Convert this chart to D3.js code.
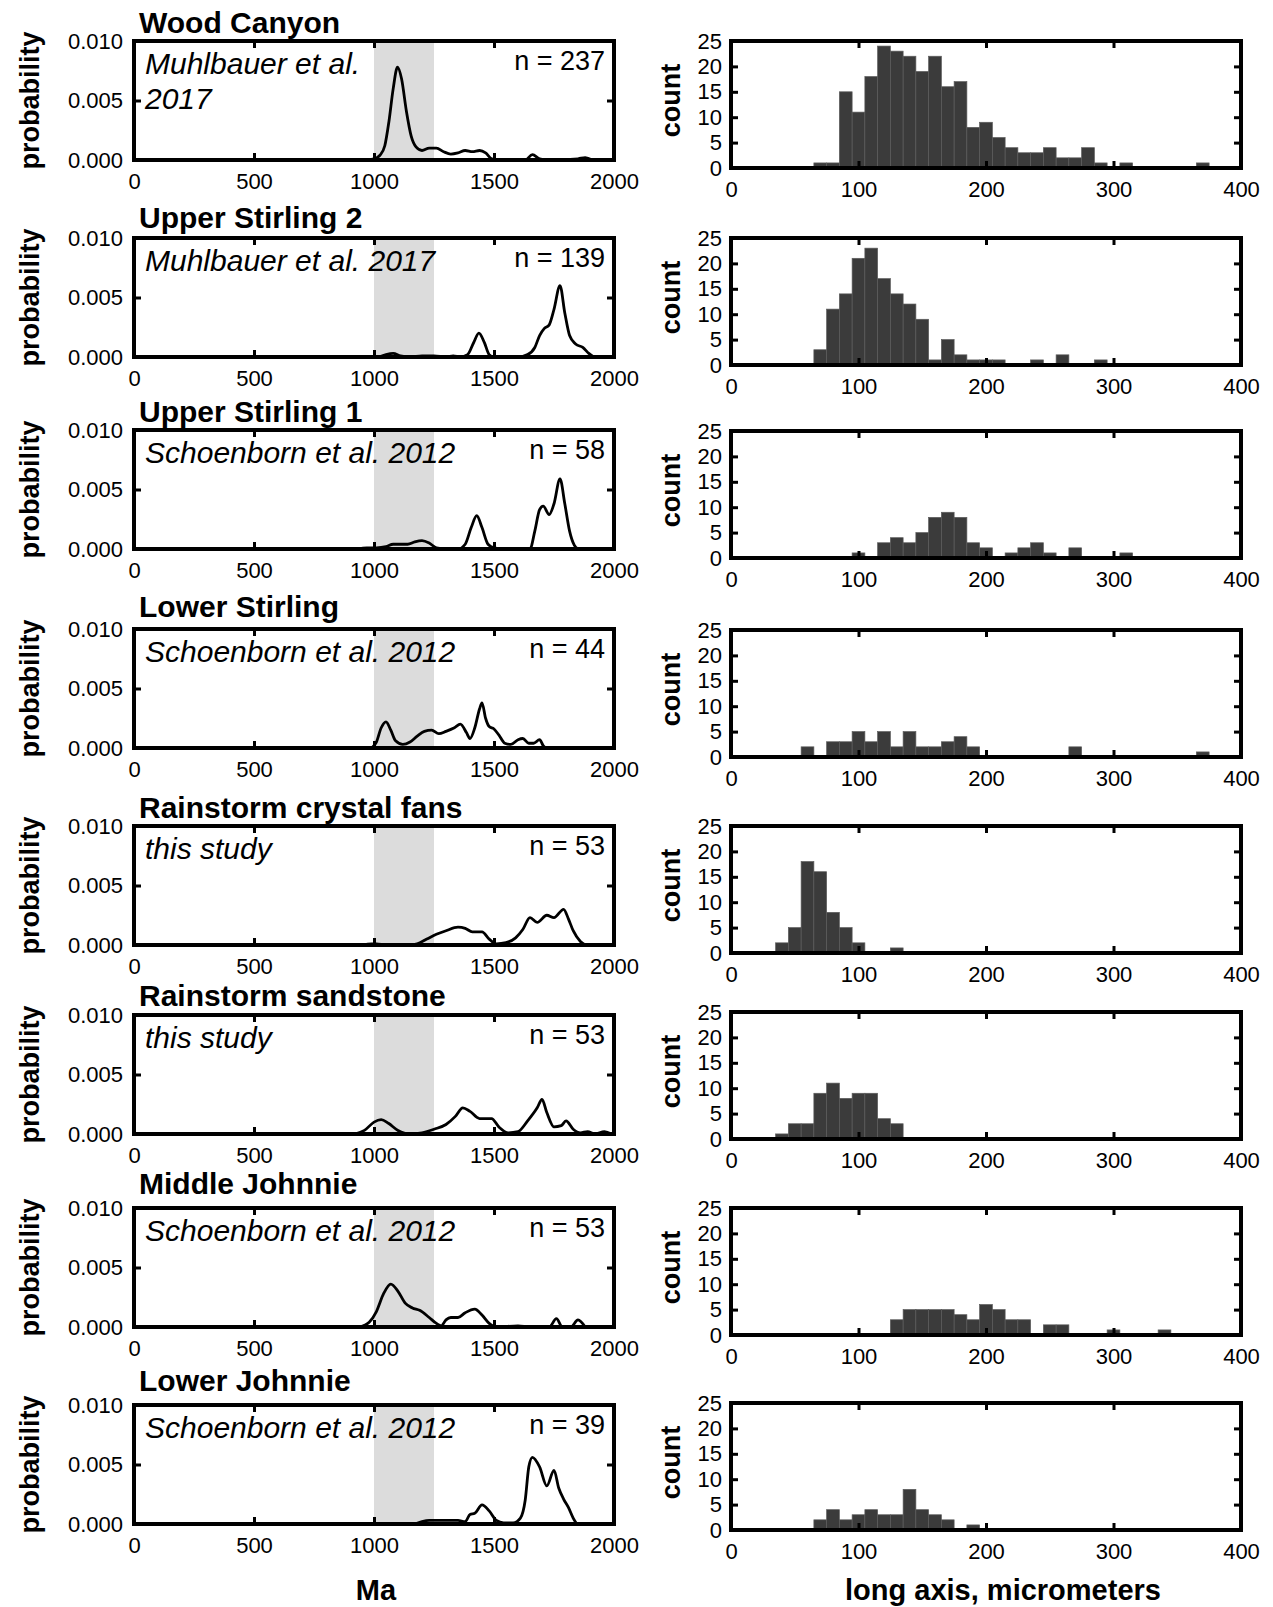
<!DOCTYPE html>
<html>
<head>
<meta charset="utf-8">
<script src="https://cdnjs.cloudflare.com/ajax/libs/d3/7.8.5/d3.min.js"></script>
<style>
body { margin: 0; background: #fff; }
svg { display: block; font-family: "Liberation Sans", Arial, Helvetica, sans-serif; }
</style>
</head>
<body>
<svg id="fig" width="1273" height="1607"></svg>
<script>
// samples, sources, n
const samples = ["Wood Canyon", "Upper Stirling 2", "Upper Stirling 1", "Lower Stirling",
	"Rainstorm crystal fans", "Rainstorm sandstone", "Middle Johnnie", "Lower Johnnie"];
const sources = ["Muhlbauer et al.\n2017", "Muhlbauer et al. 2017", "Schoenborn et al. 2012",
	"Schoenborn et al. 2012", "this study", "this study", "Schoenborn et al. 2012", "Schoenborn et al. 2012"];
const nGrains = [237, 139, 58, 44, 53, 53, 53, 39];

// axes
const ageTicks = [0, 500, 1000, 1500, 2000];
const probTicks = [0, 0.005, 0.010];
const sizeTicks = [0, 100, 200, 300, 400];
const countTicks = [0, 5, 10, 15, 20, 25];
const band = [1000, 1250];
const binWidth = 10;

// KDE curves [age Ma, probability]
const kdeWoodCanyon = [[960,0],[1000,0.0001],[1025,0.0004],[1045,0.0012],[1062,0.0032],[1080,0.006],[1098,0.0078],[1115,0.0068],[1135,0.0041],[1155,0.002],[1175,0.0011],[1200,0.0008],[1230,0.001],[1260,0.001],[1290,0.0007],[1320,0.0005],[1350,0.0006],[1380,0.0008],[1410,0.0007],[1440,0.0008],[1465,0.0006],[1490,0.0001],[1520,0],[1630,0],[1660,0.00045],[1690,0.0001],[1720,0],[1850,0.0001],[1880,0.0002],[1910,0]];
const kdeUpperStirling2 = [[1020,0],[1050,0.0002],[1080,0.0003],[1110,0.0001],[1150,0],[1200,0.0001],[1250,0.0001],[1300,0],[1330,0.0001],[1360,0],[1390,0.0002],[1415,0.0012],[1437,0.002],[1460,0.0012],[1480,0.0002],[1500,0],[1600,0],[1640,0.0002],[1670,0.0008],[1690,0.0018],[1710,0.0024],[1730,0.0027],[1750,0.004],[1775,0.006],[1795,0.0037],[1815,0.0018],[1840,0.0011],[1870,0.0008],[1895,0.0003],[1915,0]];
const kdeUpperStirling1 = [[930,0],[970,0.0001],[1010,0.0001],[1050,0.0002],[1080,0.0004],[1110,0.0004],[1140,0.0004],[1170,0.0006],[1200,0.0007],[1230,0.0005],[1260,0.0001],[1300,0],[1350,0],[1380,0.0004],[1405,0.0018],[1428,0.0028],[1450,0.0018],[1475,0.0004],[1500,0.0001],[1540,0],[1650,0],[1670,0.0015],[1690,0.0033],[1705,0.0036],[1730,0.0029],[1750,0.0038],[1775,0.0059],[1795,0.0038],[1815,0.0015],[1835,0.0003],[1850,0]];
const kdeLowerStirling = [[990,0],[1010,0.0005],[1030,0.0017],[1050,0.0022],[1070,0.0015],[1090,0.0006],[1120,0.0003],[1150,0.0005],[1180,0.001],[1210,0.0014],[1240,0.0015],[1270,0.0012],[1300,0.0014],[1335,0.0017],[1360,0.002],[1385,0.0013],[1400,0.0008],[1420,0.0017],[1440,0.0033],[1450,0.0038],[1465,0.0025],[1480,0.0018],[1500,0.0016],[1520,0.0011],[1545,0.0004],[1570,0.0003],[1600,0.0007],[1620,0.0008],[1645,0.0004],[1665,0.0004],[1690,0.0007],[1705,0.0002],[1715,0]];
const kdeCrystalFans = [[950,0],[990,0.0001],[1010,0.0001],[1050,0],[1150,0],[1180,0.0001],[1220,0.0005],[1260,0.0009],[1300,0.0012],[1350,0.0015],[1380,0.0014],[1410,0.0011],[1450,0.0011],[1480,0.0005],[1510,0.0001],[1550,0.0002],[1590,0.0006],[1620,0.0013],[1650,0.0023],[1680,0.0019],[1720,0.0025],[1750,0.0023],[1790,0.003],[1810,0.0022],[1830,0.0012],[1860,0.0003],[1880,0]];
const kdeSandstone = [[920,0],[960,0.0003],[1000,0.001],[1030,0.0012],[1060,0.0009],[1100,0.0003],[1150,0],[1200,0.0001],[1250,0.0004],[1300,0.0008],[1340,0.0015],[1370,0.0022],[1400,0.0019],[1440,0.0013],[1490,0.0013],[1520,0.0006],[1560,0.0001],[1600,0.0002],[1640,0.0011],[1680,0.0022],[1700,0.0029],[1720,0.0018],[1750,0.0006],[1780,0.0007],[1800,0.0011],[1830,0.0004],[1860,0.0001],[1890,0.0002],[1920,0],[1960,0.0002],[1990,0]];
const kdeMiddleJohnnie = [[940,0],[980,0.0004],[1010,0.0013],[1040,0.0028],[1070,0.0036],[1100,0.003],[1130,0.002],[1160,0.0016],[1190,0.0014],[1230,0.0008],[1260,0.0003],[1280,0.0001],[1300,0.0006],[1320,0.0008],[1350,0.0008],[1380,0.0012],[1420,0.0015],[1450,0.001],[1480,0.0003],[1510,0],[1600,0.0001],[1650,0],[1730,0],[1760,0.0007],[1785,0],[1820,0],[1850,0.0006],[1880,0]];
const kdeLowerJohnnie = [[1170,0],[1200,0.0002],[1230,0.0003],[1300,0.0003],[1350,0.0003],[1380,0.0002],[1400,0.0008],[1420,0.0009],[1450,0.0016],[1480,0.0011],[1510,0.0003],[1540,0.0001],[1580,0.0001],[1610,0.0005],[1630,0.002],[1645,0.0048],[1660,0.0056],[1690,0.0048],[1720,0.0032],[1750,0.0045],[1770,0.003],[1790,0.0021],[1810,0.0014],[1830,0.0005],[1845,0]];

// histograms [bin centre µm, count]
const histWoodCanyon = [[70,1],[80,1],[90,15],[100,11],[110,18],[120,24],[130,23],[140,22],[150,19],[160,22],[170,16],[180,17],[190,8],[200,9],[210,6],[220,4],[230,3],[240,3],[250,4],[260,2],[270,2],[280,4],[290,1],[310,1],[370,1]];
const histUpperStirling2 = [[70,3],[80,11],[90,14],[100,21],[110,23],[120,17],[130,14],[140,12],[150,9],[160,1],[170,5],[180,2],[190,1],[200,1],[210,1],[240,1],[260,2],[290,1]];
const histUpperStirling1 = [[100,1],[120,3],[130,4],[140,3],[150,5],[160,8],[170,9],[180,8],[190,3],[200,2],[220,1],[230,2],[240,3],[250,1],[270,2],[310,1]];
const histLowerStirling = [[60,2],[80,3],[90,3],[100,5],[110,3],[120,5],[130,2],[140,5],[150,2],[160,2],[170,3],[180,4],[190,2],[270,2],[370,1]];
const histCrystalFans = [[40,2],[50,5],[60,18],[70,16],[80,8],[90,5],[100,2],[130,1]];
const histSandstone = [[40,1],[50,3],[60,3],[70,9],[80,11],[90,8],[100,9],[110,9],[120,4],[130,3]];
const histMiddleJohnnie = [[130,3],[140,5],[150,5],[160,5],[170,5],[180,4],[190,3],[200,6],[210,5],[220,3],[230,3],[250,2],[260,2],[300,1],[340,1]];
const histLowerJohnnie = [[70,2],[80,4],[90,2],[100,3],[110,4],[120,3],[130,3],[140,8],[150,4],[160,3],[170,2],[190,1]];

const kdes = [kdeWoodCanyon, kdeUpperStirling2, kdeUpperStirling1, kdeLowerStirling,
	kdeCrystalFans, kdeSandstone, kdeMiddleJohnnie, kdeLowerJohnnie];
const hists = [histWoodCanyon, histUpperStirling2, histUpperStirling1, histLowerStirling,
	histCrystalFans, histSandstone, histMiddleJohnnie, histLowerJohnnie];

// mise en page (px)
const kdeX = [134, 614], kdeH = 119;
const histX = [731, 1241], histH = 127;
const kdeTops = [41, 238, 430, 629, 826, 1015, 1208, 1405];
const histTops = [41, 238, 431, 630, 826, 1012, 1208, 1403];
const titleBase = [33, 228, 422, 617, 818, 1006, 1194, 1391];

let svg = d3.select("#fig");
svg.append("rect").attr("width", 1273).attr("height", 1607).attr("fill", "#fff");

function axes(g, x, y, xt, yt, fx, fy, pad) {
	let [x0, x1] = x.range();
	let [y0, y1] = y.range();
	let parts = [
		[`translate(0,${y0})`, d3.axisBottom(x).tickValues(xt).tickPadding(13).tickFormat(fx)],
		[`translate(0,${y1})`, d3.axisTop(x).tickValues(xt).tickFormat("")],
		[`translate(${x0},0)`, d3.axisLeft(y).tickValues(yt).tickPadding(pad).tickFormat(fy)],
		[`translate(${x1},0)`, d3.axisRight(y).tickValues(yt).tickFormat("")]
	];
	for (let [t, ax] of parts) {
		let a = g.append("g")
			.attr("transform", t)
			.call(ax.tickSize(-7))
			.attr("font-family", null)
			.attr("font-size", 22);
		a.select(".domain").remove();
		a.selectAll(".tick line").attr("stroke", "#000").attr("stroke-width", 3);
		a.selectAll(".tick text").attr("fill", "#000");
	}
	g.append("rect")
		.attr("x", x0).attr("y", y1)
		.attr("width", x1 - x0).attr("height", y0 - y1)
		.attr("fill", "none")
		.attr("stroke", "#000")
		.attr("stroke-width", 4);
}

let x = d3.scaleLinear().domain([0, 2000]).range(kdeX);
let xs = d3.scaleLinear().domain([0, 400]).range(histX);
let f3 = d3.format(".3f");

samples.forEach((name, i) => {
	// panneau gauche : densité d'âges
	let top = kdeTops[i];
	let y = d3.scaleLinear().domain([0, 0.010]).range([top + kdeH, top]);
	let g = svg.append("g");
	g.append("rect")
		.attr("x", x(band[0])).attr("y", top)
		.attr("width", x(band[1]) - x(band[0])).attr("height", kdeH)
		.attr("fill", "#dcdcdc");
	g.append("path")
		.datum(kdes[i])
		.attr("fill", "none")
		.attr("stroke", "#000")
		.attr("stroke-width", 2.8)
		.attr("stroke-linejoin", "round")
		.attr("d", d3.line().x(d => x(d[0])).y(d => y(d[1])).curve(d3.curveMonotoneX));
	axes(g, x, y, ageTicks, probTicks, d3.format("d"), f3, 11);

	g.append("text")
		.attr("x", 139).attr("y", titleBase[i])
		.attr("font-size", 30).attr("font-weight", "bold")
		.text(name);
	sources[i].split("\n").forEach((s, k) => {
		g.append("text")
			.attr("x", kdeX[0] + 11).attr("y", top + 33 + k * 35)
			.attr("font-size", 30).attr("font-style", "italic")
			.text(s);
	});
	g.append("text")
		.attr("x", kdeX[1] - 9).attr("y", top + 29)
		.attr("text-anchor", "end")
		.attr("font-size", 27)
		.text(`n = ${nGrains[i]}`);
	g.append("text")
		.attr("transform", `translate(30,${top + kdeH / 2}) rotate(-90)`)
		.attr("text-anchor", "middle").attr("dominant-baseline", "central")
		.attr("font-size", 27).attr("font-weight", "bold")
		.text("probability");

	// panneau droit : histogramme des tailles
	let htop = histTops[i];
	let yh = d3.scaleLinear().domain([0, 25]).range([htop + histH, htop]);
	let h = svg.append("g");
	h.append("g")
		.selectAll("rect")
		.data(hists[i])
		.join("rect")
		.attr("x", d => xs(d[0] - binWidth / 2))
		.attr("width", d => xs(d[0] + binWidth / 2) - xs(d[0] - binWidth / 2))
		.attr("y", d => yh(d[1]))
		.attr("height", d => yh(0) - yh(d[1]))
		.attr("fill", "#3b3b3b")
		.attr("stroke", "#5c5c5c")
		.attr("stroke-width", 0.7);
	axes(h, xs, yh, sizeTicks, countTicks, d3.format("d"), d3.format("d"), 9);
	h.append("text")
		.attr("transform", `translate(671,${htop + histH / 2 - 4}) rotate(-90)`)
		.attr("text-anchor", "middle").attr("dominant-baseline", "central")
		.attr("font-size", 27).attr("font-weight", "bold")
		.text("count");
});

svg.append("text")
	.attr("x", 376).attr("y", 1600)
	.attr("text-anchor", "middle")
	.attr("font-size", 29).attr("font-weight", "bold")
	.text("Ma");
svg.append("text")
	.attr("x", 1003).attr("y", 1600)
	.attr("text-anchor", "middle")
	.attr("font-size", 29).attr("font-weight", "bold")
	.text("long axis, micrometers");
</script>
</body>
</html>
